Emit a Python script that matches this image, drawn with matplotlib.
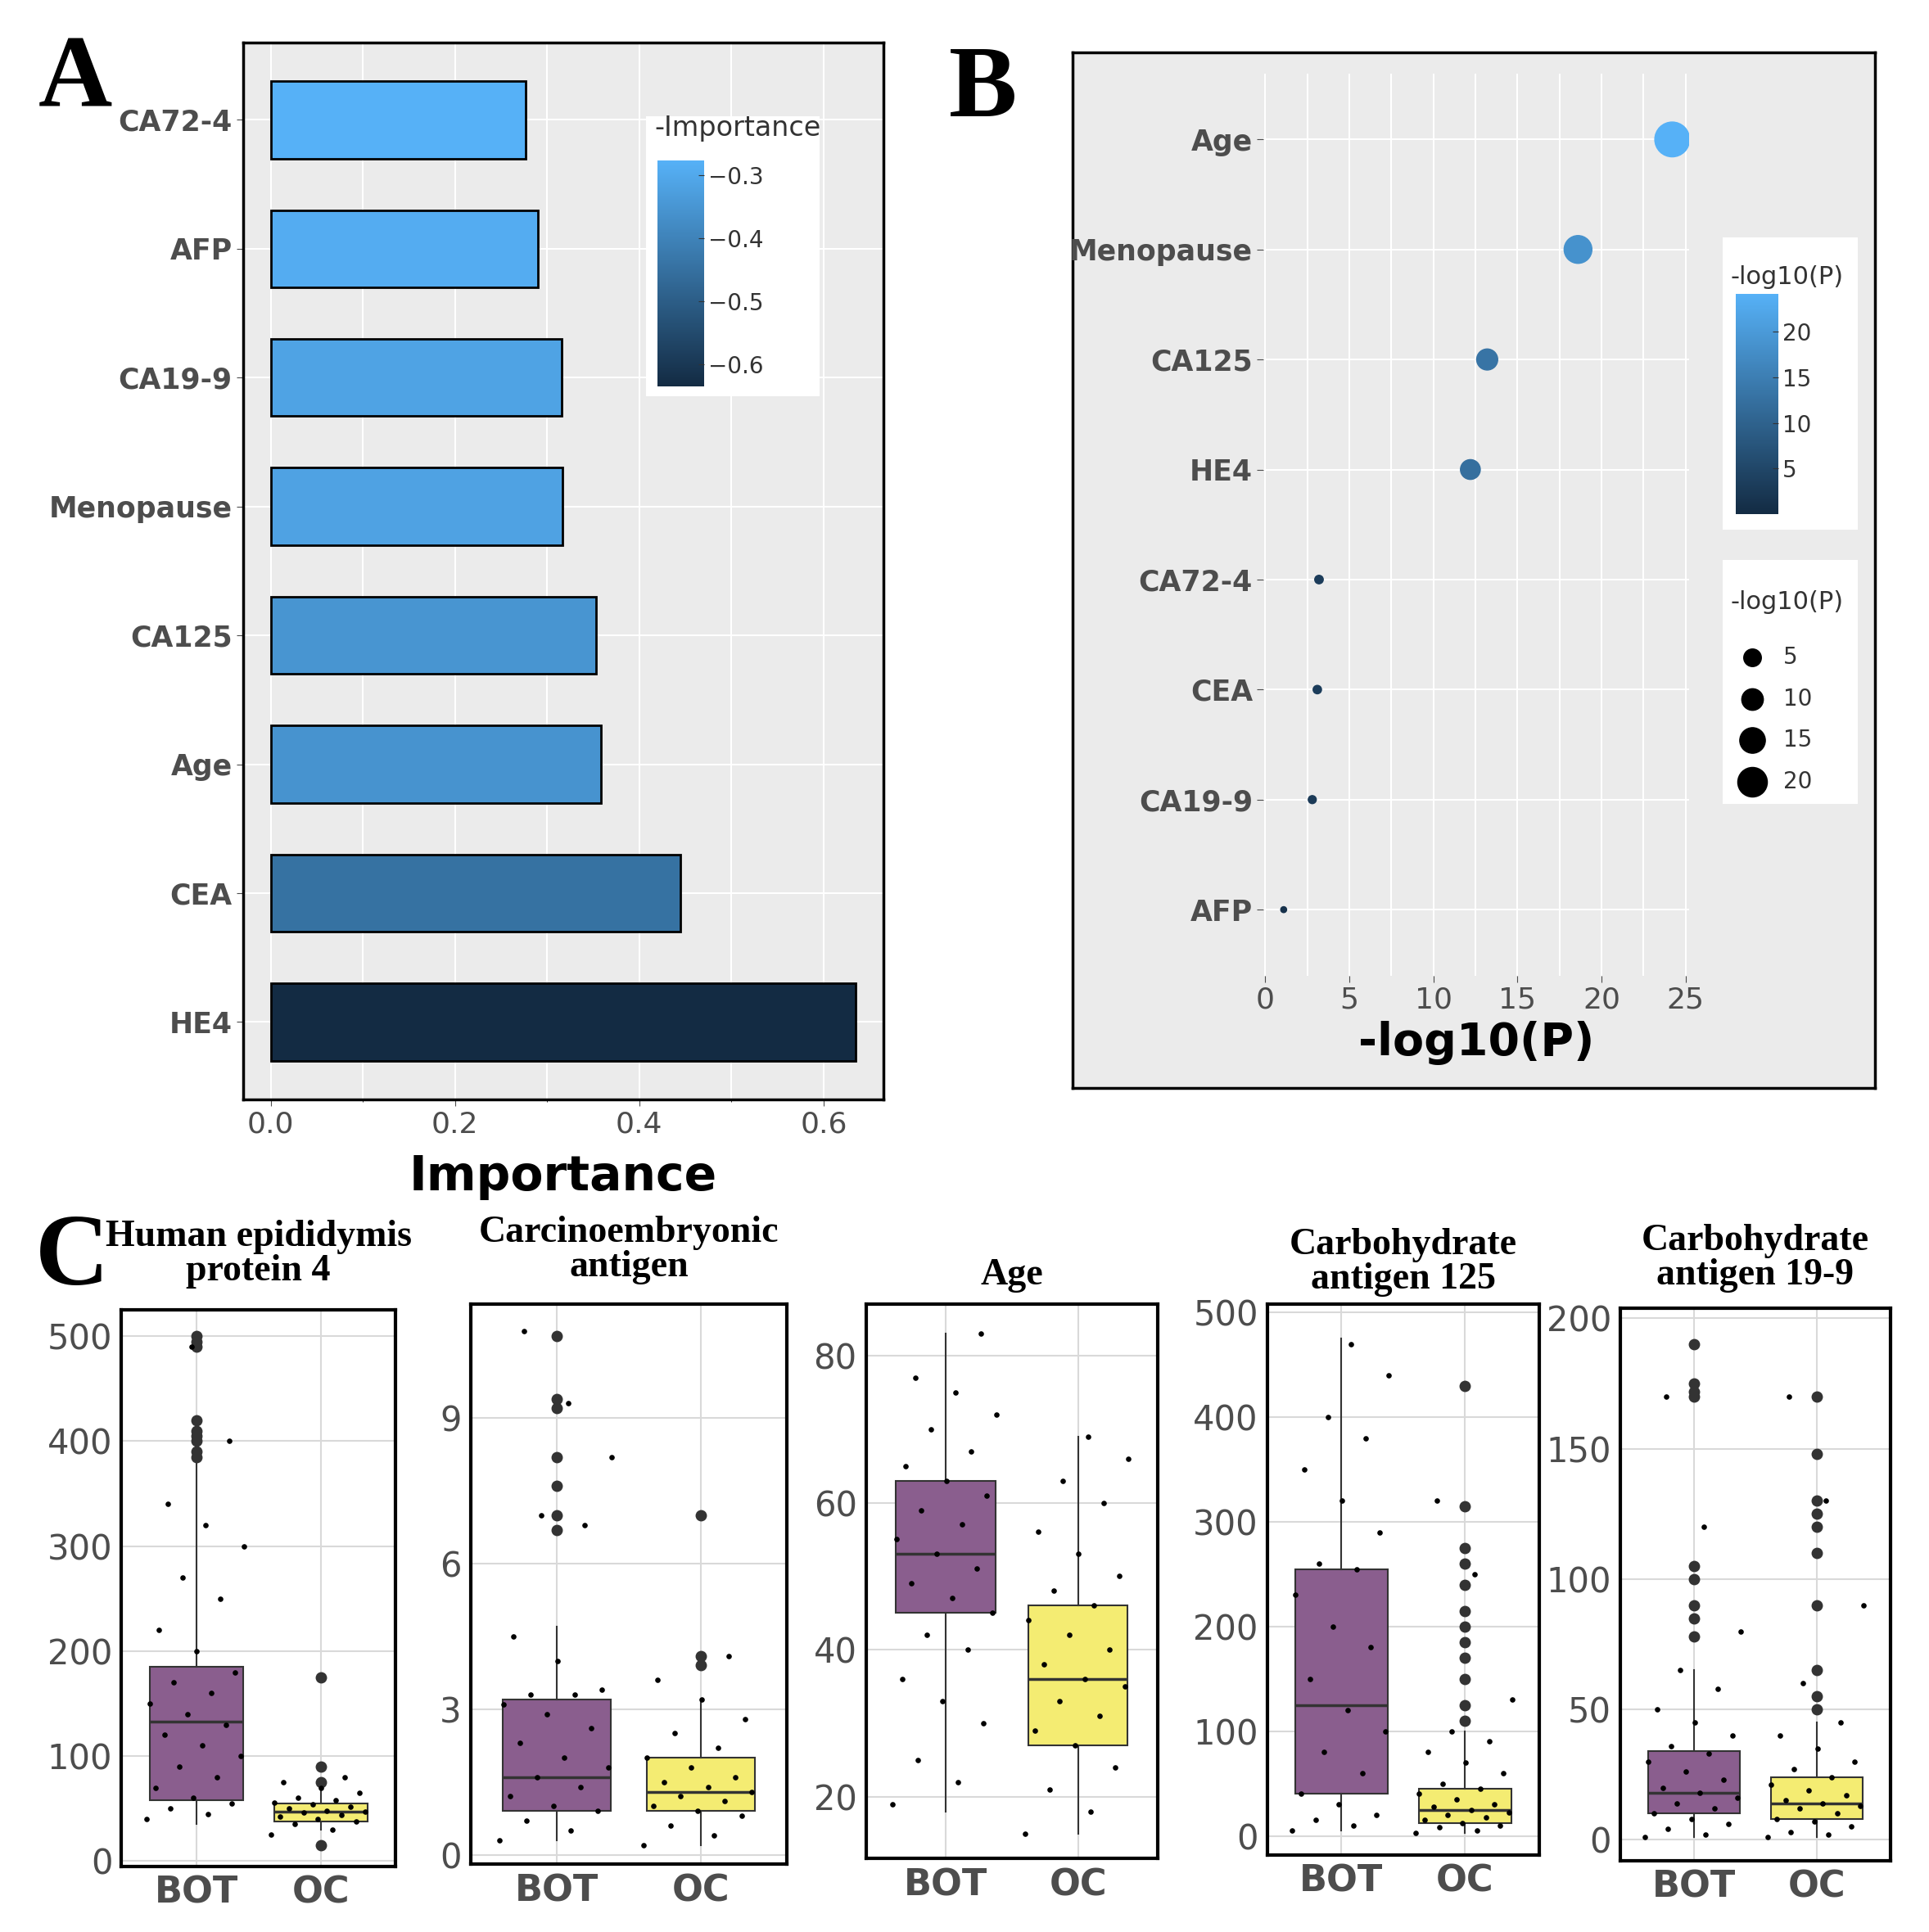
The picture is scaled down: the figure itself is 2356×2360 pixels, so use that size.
import numpy as np
import matplotlib
matplotlib.use("Agg")
import matplotlib.pyplot as plt
from matplotlib.colors import LinearSegmentedColormap, Normalize

# ---- data ----
imp_names = ["HE4", "CEA", "Age", "CA125", "Menopause", "CA19-9", "AFP", "CA72-4"]
imp_vals = [0.635, 0.445, 0.358, 0.353, 0.317, 0.316, 0.290, 0.277]

p_names = ["AFP", "CA19-9", "CEA", "CA72-4", "HE4", "CA125", "Menopause", "Age"]
p_vals = [1.1, 2.8, 3.1, 3.2, 12.2, 13.2, 18.6, 24.2]

box_titles = ["Human epididymis\nprotein 4", "Carcinoembryonic\nantigen", "Age",
              "Carbohydrate\nantigen 125", "Carbohydrate\nantigen 19-9"]
# per panel: (q1, med, q3, whislo, whishi) for BOT, OC
bot_stats = [(58, 133, 185, 35, 420), (0.9, 1.6, 3.2, 0.3, 4.7), (45, 53, 63, 18, 83),
             (40, 125, 255, 5, 475), (10, 18, 34, 1, 65)]
oc_stats = [(38, 47, 55, 30, 70), (0.9, 1.3, 2.0, 0.2, 3.2), (27, 36, 46, 15, 69),
            (12, 25, 45, 3, 100), (8, 14, 24, 1, 45)]
bot_fliers = [[400, 405, 410, 420, 390, 385, 490, 500, 495],
              [6.7, 7.0, 7.6, 8.2, 9.2, 9.4, 10.7],
              [],
              [],
              [78, 85, 90, 100, 105, 170, 172, 175, 190]]
oc_fliers = [[15, 75, 90, 175],
             [3.9, 4.1, 7.0],
             [],
             [110, 125, 150, 170, 185, 200, 215, 240, 260, 275, 315, 430],
             [50, 55, 65, 90, 110, 120, 125, 130, 148, 170]]
bot_points = [[40, 45, 50, 55, 60, 70, 80, 90, 100, 110, 120, 130, 140, 150, 160, 170, 180, 200, 220, 250, 270, 300, 320, 340, 400, 490],
              [0.3, 0.5, 0.7, 0.9, 1.0, 1.2, 1.4, 1.6, 1.8, 2.0, 2.3, 2.6, 2.9, 3.1, 3.3, 3.3, 3.4, 4.0, 4.5, 6.8, 7.0, 8.2, 9.3, 10.8],
              [19, 22, 25, 30, 33, 36, 40, 42, 45, 47, 49, 51, 53, 55, 57, 59, 61, 63, 65, 67, 70, 72, 75, 77, 83],
              [5, 10, 15, 20, 30, 40, 60, 80, 100, 120, 150, 180, 200, 230, 255, 260, 290, 320, 350, 380, 400, 440, 470],
              [1, 2, 4, 6, 8, 10, 12, 14, 16, 18, 20, 23, 26, 30, 33, 36, 40, 45, 50, 58, 65, 80, 120, 170]]
oc_points = [[25, 30, 35, 38, 40, 42, 44, 46, 47, 48, 50, 52, 54, 56, 58, 60, 65, 70, 75, 80],
             [0.2, 0.4, 0.6, 0.8, 0.9, 1.0, 1.1, 1.2, 1.3, 1.4, 1.5, 1.6, 1.8, 2.0, 2.2, 2.5, 2.8, 3.2, 3.6, 4.1],
             [15, 18, 21, 24, 27, 29, 31, 33, 35, 36, 38, 40, 42, 44, 46, 48, 50, 53, 56, 60, 63, 66, 69],
             [3, 5, 8, 10, 12, 15, 18, 20, 22, 25, 28, 30, 35, 40, 45, 50, 60, 70, 80, 90, 100, 130, 250, 320],
             [1, 2, 3, 5, 7, 8, 10, 12, 13, 14, 15, 17, 19, 21, 24, 27, 30, 35, 40, 45, 60, 90, 130, 170]]
box_ylims = [(-5, 525), (-0.2, 11.35), (11.6, 87), (-18, 508), (-8, 204)]
box_yticks = [[0, 100, 200, 300, 400, 500], [0, 3, 6, 9], [20, 40, 60, 80],
              [0, 100, 200, 300, 400, 500], [0, 50, 100, 150, 200]]

cmap = LinearSegmentedColormap.from_list("gg", ["#132B43", "#56B1F7"])
grey = "#EBEBEB"
lab = "#4D4D4D"
serif = "Liberation Serif"

fig = plt.figure(figsize=(23.56, 23.6), dpi=100)

# ---- panel A ----
axA = fig.add_axes([0.126, 0.431, 0.332, 0.547])
axA.set_facecolor(grey)
normA = Normalize(min(-v for v in imp_vals), max(-v for v in imp_vals))
y = np.arange(len(imp_names))
axA.barh(y, imp_vals, height=0.6, color=[cmap(normA(-v)) for v in imp_vals],
         edgecolor="black", linewidth=2)
axA.set_yticks(y)
axA.set_yticklabels(imp_names, fontsize=25, color=lab, fontweight="bold")
axA.set_xticks([0, 0.2, 0.4, 0.6])
axA.set_xticklabels(["0.0", "0.2", "0.4", "0.6"], fontsize=26, color=lab)
axA.set_xticks([0.1, 0.3, 0.5], minor=True)
axA.set_xlim(-0.03, 0.665)
axA.set_ylim(-0.6, 7.6)
axA.grid(True, which="both", color="white", linewidth=1.5)
axA.set_axisbelow(True)
axA.set_xlabel("Importance", fontsize=42, fontweight="bold", labelpad=14)
for s in axA.spines.values():
    s.set_linewidth(2.5)
axA.tick_params(length=6, colors=lab)
# legend
leg = fig.add_axes([0.335, 0.795, 0.09, 0.145])
leg.set_xticks([]); leg.set_yticks([])
for s in leg.spines.values():
    s.set_visible(False)
leg.text(0.05, 0.93, "-Importance", fontsize=24, color="#333333", transform=leg.transAxes)
cb = fig.add_axes([0.341, 0.8, 0.024, 0.117])
sm = plt.cm.ScalarMappable(norm=normA, cmap=cmap)
c = fig.colorbar(sm, cax=cb, ticks=[-0.3, -0.4, -0.5, -0.6])
c.outline.set_visible(False)
c.ax.tick_params(labelsize=20, colors="#333333", length=5, direction="in")
fig.text(0.02, 0.945, "A", fontsize=90, fontweight="bold", family=serif)

# ---- panel B ----
bg = fig.add_axes([0.556, 0.437, 0.416, 0.536])
bg.set_facecolor(grey)
bg.set_xticks([]); bg.set_yticks([])
for s in bg.spines.values():
    s.set_linewidth(2.5)
axB = fig.add_axes([0.655, 0.495, 0.2206, 0.467])
axB.set_facecolor(grey)
normB = Normalize(0, max(p_vals))
yb = np.arange(len(p_names))
axB.scatter(p_vals, yb, s=[(2 + v * 0.55) ** 2 * 4 for v in p_vals],
            c=[cmap(normB(v)) for v in p_vals], zorder=3)
axB.set_yticks(yb)
axB.set_yticklabels(p_names, fontsize=25, color=lab, fontweight="bold")
axB.set_xticks([0, 5, 10, 15, 20, 25])
axB.set_xticklabels(["0", "5", "10", "15", "20", "25"], fontsize=26, color=lab)
axB.set_xticks([2.5, 7.5, 12.5, 17.5, 22.5], minor=True)
axB.set_xlim(-0.1, 25.2)
axB.set_ylim(-0.6, 7.6)
axB.grid(True, which="both", color="white", linewidth=1.5)
axB.set_axisbelow(True)
for s in axB.spines.values():
    s.set_visible(False)
axB.tick_params(length=6, colors=lab)
axB.tick_params(which="minor", length=0)
axB.set_xlabel("-log10(P)", fontsize=40, fontweight="bold", labelpad=6)
l1 = fig.add_axes([0.893, 0.726, 0.07, 0.151])
l1.set_xticks([]); l1.set_yticks([])
for s in l1.spines.values():
    s.set_visible(False)
l1.text(0.06, 0.84, "-log10(P)", fontsize=22, color="#333333", transform=l1.transAxes)
cb2 = fig.add_axes([0.900, 0.734, 0.022, 0.114])
c2 = fig.colorbar(plt.cm.ScalarMappable(norm=normB, cmap=cmap), cax=cb2, ticks=[5, 10, 15, 20])
c2.outline.set_visible(False)
c2.ax.tick_params(labelsize=20, colors="#333333", length=5, direction="in")
l2 = fig.add_axes([0.893, 0.584, 0.07, 0.126])
l2.set_xticks([]); l2.set_yticks([])
for s in l2.spines.values():
    s.set_visible(False)
l2.text(0.06, 0.8, "-log10(P)", fontsize=22, color="#333333", transform=l2.transAxes)
for i, v in enumerate([5, 10, 15, 20]):
    yy = 0.6 - i * 0.17
    l2.scatter(0.22, yy, s=(6 + v * 0.35) ** 2 * 4, color="black", transform=l2.transAxes)
    l2.text(0.45, yy, str(v), fontsize=20, va="center", color="#333333", transform=l2.transAxes)
fig.text(0.492, 0.94, "B", fontsize=90, fontweight="bold", family=serif)

# ---- panel C ----
boxes = [(0.063, 0.034, 0.142, 0.288), (0.244, 0.035, 0.164, 0.29),
         (0.449, 0.038, 0.151, 0.287), (0.657, 0.040, 0.141, 0.285),
         (0.840, 0.037, 0.140, 0.286)]
title_y = [0.333, 0.335, 0.331, 0.329, 0.331]
for k in range(5):
    ax = fig.add_axes(boxes[k])
    ax.set_facecolor("white")
    stats = []
    for st, fl in [(bot_stats[k], bot_fliers[k]), (oc_stats[k], oc_fliers[k])]:
        stats.append(dict(q1=st[0], med=st[1], q3=st[2], whislo=st[3], whishi=st[4], fliers=fl))
    bp = ax.bxp(stats, positions=[1, 2], widths=0.75, patch_artist=True,
                flierprops=dict(marker="o", markerfacecolor="#333333", markeredgecolor="#333333", markersize=9),
                medianprops=dict(color="#333333", linewidth=2.5),
                whiskerprops=dict(color="#333333", linewidth=1.5), showcaps=False,
                boxprops=dict(edgecolor="#333333", linewidth=1.5))
    bp["boxes"][0].set_facecolor("#8A5E8E")
    bp["boxes"][1].set_facecolor("#F4EC72")
    for pos, pts in [(1, bot_points[k]), (2, oc_points[k])]:
        jit = [((i * 0.618) % 1 - 0.5) * 0.8 for i in range(len(pts))]
        ax.scatter(np.array(jit) + pos, pts, s=14, color="black", zorder=4)
    ax.set_xlim(0.4, 2.6)
    ax.set_ylim(*box_ylims[k])
    ax.set_yticks(box_yticks[k])
    ax.set_yticklabels([str(t) for t in box_yticks[k]], fontsize=30, color=lab)
    ax.set_xticks([1, 2])
    ax.set_xticklabels(["BOT", "OC"], fontsize=32, color=lab, fontweight="bold")
    ax.grid(True, color="#D9D9D9", linewidth=1.5)
    ax.set_axisbelow(True)
    ax.tick_params(length=0, pad=8)
    for s in ax.spines.values():
        s.set_linewidth(3)
    fig.text(boxes[k][0] + boxes[k][2] / 2, title_y[k], box_titles[k], ha="center", va="bottom",
             fontsize=33, fontweight="bold", family=serif, linespacing=1.0)
fig.text(0.018, 0.335, "C", fontsize=90, fontweight="bold", family=serif)

fig.savefig("out.png", dpi=100)
